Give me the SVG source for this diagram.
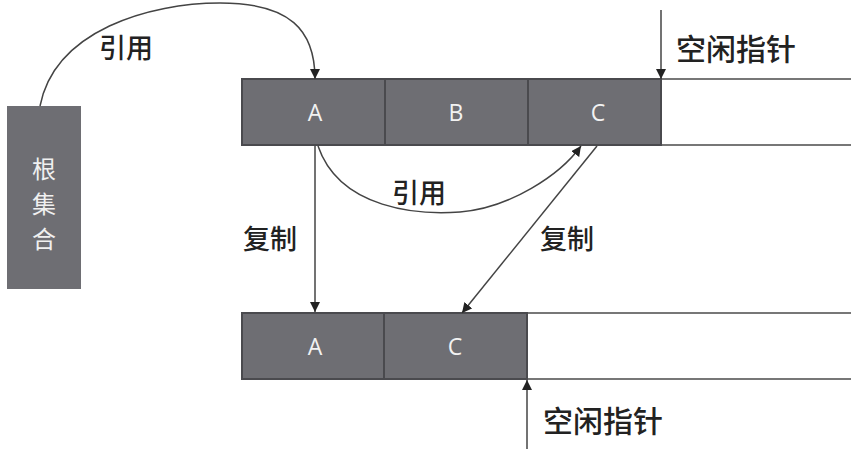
<svg xmlns="http://www.w3.org/2000/svg" width="859" height="451" viewBox="0 0 859 451">
<style>
.cell{fill:#6e6e73;stroke:#4a4a4e;stroke-width:2}
.ct{font-family:"Open Sans","Liberation Sans",sans-serif;font-size:23px;fill:#f2f2f2;text-anchor:middle}
.lb{font-family:"Noto Sans CJK SC",sans-serif;font-size:27px;font-weight:500;fill:#222}
.fp{font-size:30px}
.rt{font-family:"Noto Sans CJK SC",sans-serif;font-size:24px;fill:#f0f0f0;text-anchor:middle}
.ln{stroke:#777;stroke-width:2;fill:none}
.cn{stroke:#444;stroke-width:1.5;fill:none;marker-end:url(#ah)}
</style>
<defs>
<marker id="ah" viewBox="0 0 10 10" refX="10" refY="5" markerWidth="10" markerHeight="10" markerUnits="userSpaceOnUse" orient="auto">
<path d="M0,0 L10,5 L0,10 z" fill="#222"/>
</marker>
</defs>
<rect width="859" height="451" fill="#fff"/>
<g id="root">
<rect x="7" y="106" width="74" height="183" fill="#6e6e73"/>
<text class="rt" x="44" y="178">根</text>
<text class="rt" x="44" y="213">集</text>
<text class="rt" x="44" y="248">合</text>
</g>
<g id="from-space">
<line class="ln" x1="661" y1="79" x2="851" y2="79"/>
<line class="ln" x1="661" y1="145" x2="851" y2="145"/>
<g id="from-A"><rect class="cell" x="242" y="79" width="143" height="66"/><text class="ct" x="315" y="121">A</text></g>
<g id="from-B"><rect class="cell" x="385" y="79" width="143" height="66"/><text class="ct" x="456" y="121">B</text></g>
<g id="from-C"><rect class="cell" x="528" y="79" width="133" height="66"/><text class="ct" x="598" y="121">C</text></g>
</g>
<g id="to-space">
<line class="ln" x1="527" y1="313" x2="851" y2="313"/>
<line class="ln" x1="527" y1="379" x2="851" y2="379"/>
<g id="to-A"><rect class="cell" x="242" y="313" width="142" height="66"/><text class="ct" x="315" y="355">A</text></g>
<g id="to-C"><rect class="cell" x="384" y="313" width="143" height="66"/><text class="ct" x="455" y="355">C</text></g>
</g>
<g id="connectors">
<path class="cn" d="M40,106 C55,30 150,3 220,3 C290,3 315,30 315,79"/>
<path class="cn" d="M318,146 C340,210 420,215 460,212 C510,208 560,175 581,146"/>
<line class="cn" x1="315" y1="146" x2="315" y2="312"/>
<line class="cn" x1="597" y1="146" x2="462" y2="313"/>
<line class="cn" x1="661" y1="10" x2="661" y2="79"/>
<line class="cn" x1="527" y1="449" x2="527" y2="380"/>
</g>
<g id="labels">
<text class="lb" x="99" y="58">引用</text>
<text class="lb" x="392" y="203">引用</text>
<text class="lb" x="243" y="249">复制</text>
<text class="lb" x="540" y="249">复制</text>
<text class="lb fp" x="676" y="60">空闲指针</text>
<text class="lb fp" x="543" y="432">空闲指针</text>
</g>
</svg>
